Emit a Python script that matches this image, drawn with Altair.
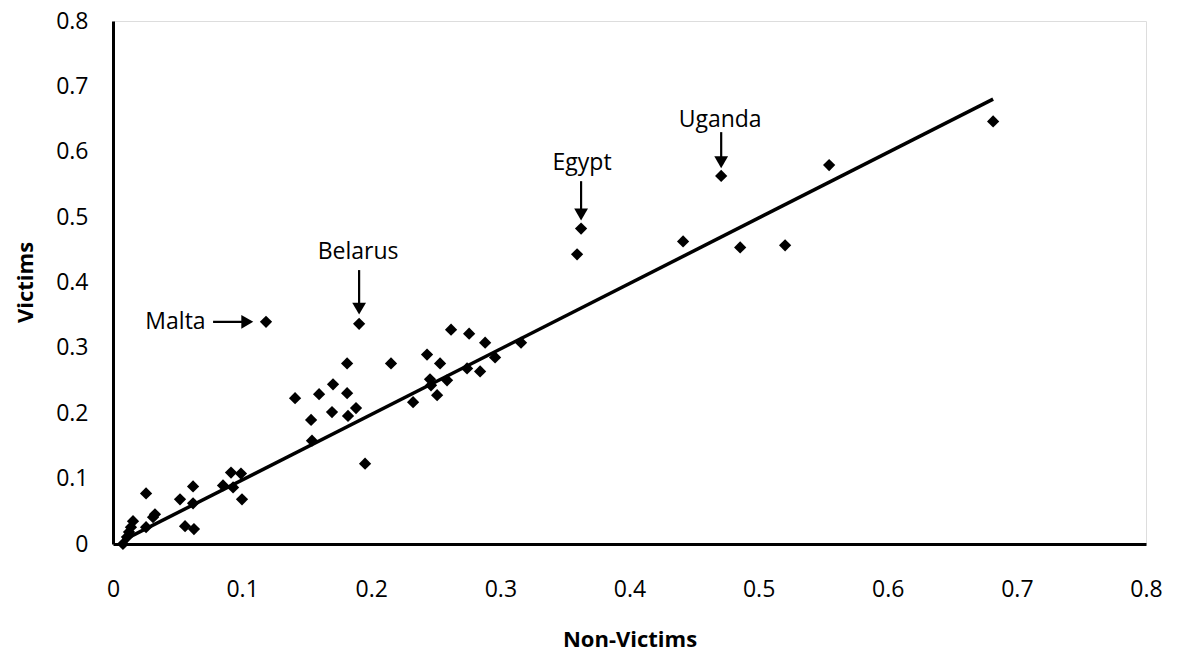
import altair as alt
import pandas as pd

# ---- data ----
non_victims = [0.0077, 0.0108, 0.0124, 0.0139, 0.0155, 0.0256, 0.0256, 0.0310, 0.0325, 0.0519,
               0.0558, 0.0620, 0.0620, 0.0627, 0.0852, 0.0914, 0.0930, 0.0991, 0.0999, 0.1185,
               0.1410, 0.1534, 0.1541, 0.1596, 0.1696, 0.1704, 0.1813, 0.1813, 0.1820, 0.1882,
               0.1906, 0.1952, 0.2153, 0.2324, 0.2432, 0.2455, 0.2463, 0.2510, 0.2533, 0.2587,
               0.2618, 0.2742, 0.2758, 0.2843, 0.2882, 0.2959, 0.3160, 0.3594, 0.3625, 0.4415,
               0.4710, 0.4857, 0.5205, 0.5546, 0.6816]
victims = [0.0000, 0.0106, 0.0182, 0.0258, 0.0349, 0.0774, 0.0258, 0.0410, 0.0455, 0.0683,
           0.0273, 0.0880, 0.0622, 0.0228, 0.0895, 0.1093, 0.0865, 0.1077, 0.0683, 0.3399,
           0.2231, 0.1897, 0.1580, 0.2291, 0.2018, 0.2443, 0.2762, 0.2307, 0.1958, 0.2079,
           0.3369, 0.1229, 0.2762, 0.2170, 0.2898, 0.2519, 0.2428, 0.2276, 0.2762, 0.2504,
           0.3278, 0.2686, 0.3217, 0.2640, 0.3080, 0.2853, 0.3080, 0.4431, 0.4825, 0.4628,
           0.5630, 0.4537, 0.4568, 0.5797, 0.6464]

# linear trend line (end points)
trend_x = [0.0077, 0.6816]
trend_y = [0.0055, 0.6805]

label_names = ["Malta", "Belarus", "Egypt", "Uganda"]
label_x = [0.0484, 0.1898, 0.3633, 0.4702]
label_y = [0.3399, 0.4460, 0.5830, 0.6490]

shaft_x1 = [0.0775, 0.1906, 0.3625, 0.4710]
shaft_x2 = [0.1030, 0.1906, 0.3625, 0.4710]
shaft_y1 = [0.3399, 0.4190, 0.5550, 0.6300]
shaft_y2 = [0.3399, 0.3650, 0.5050, 0.5900]

head_x = [0.1040, 0.1906, 0.3625, 0.4710]
head_y = [0.3399, 0.3600, 0.5040, 0.5840]
head_shape = ["triangle-right", "triangle-down", "triangle-down", "triangle-down"]

x_ticks = [0, 0.1, 0.2, 0.3, 0.4, 0.5, 0.6, 0.7, 0.8]
y_ticks = [0, 0.1, 0.2, 0.3, 0.4, 0.5, 0.6, 0.7, 0.8]

FONT = "Open Sans"

pts = pd.DataFrame({"nv": non_victims, "v": victims})
trend_df = pd.DataFrame({"nv": trend_x, "v": trend_y})
labels = pd.DataFrame({"name": label_names, "x": label_x, "y": label_y})
shafts = pd.DataFrame({"x1": shaft_x1, "x2": shaft_x2, "y1": shaft_y1, "y2": shaft_y2})
heads = pd.DataFrame({"x": head_x, "y": head_y, "shape": head_shape})

xscale = alt.Scale(domain=[0, 0.8], nice=False, zero=False)
yscale = alt.Scale(domain=[0, 0.8], nice=False, zero=False)

xaxis = alt.Axis(title="Non-Victims", values=x_ticks, format=".1~f", grid=False, ticks=False, tickSize=0,
                 labelPadding=34, labelFontSize=23, labelFont=FONT, labelColor="black",
                 domainColor="black", domainWidth=3,
                 titleFont=FONT, titleFontSize=22, titleFontWeight="bold", titleColor="black",
                 titleBaseline="middle", titleY=95, labelFlush=False, labelOverlap=False)
yaxis = alt.Axis(title="Victims", values=y_ticks, format=".1~f", grid=False, ticks=False, tickSize=0,
                 labelPadding=25, labelFontSize=23, labelFont=FONT, labelColor="black",
                 domainColor="black", domainWidth=3,
                 titleFont=FONT, titleFontSize=22, titleFontWeight="bold", titleColor="black",
                 titleBaseline="middle", titleX=-88, titleY=261, titleAlign="center",
                 labelFlush=False, labelOverlap=False)

points = alt.Chart(pts).mark_point(shape="diamond", filled=True, color="black", size=150, opacity=1).encode(
    x=alt.X("nv:Q", scale=xscale, axis=xaxis),
    y=alt.Y("v:Q", scale=yscale, axis=yaxis),
)

trend = alt.Chart(trend_df).mark_line(color="black", strokeWidth=3.5).encode(
    x=alt.X("nv:Q", scale=xscale),
    y=alt.Y("v:Q", scale=yscale),
)

text = alt.Chart(labels).mark_text(font=FONT, fontSize=23, color="black", align="center", baseline="middle").encode(
    x=alt.X("x:Q", scale=xscale),
    y=alt.Y("y:Q", scale=yscale),
    text="name:N",
)

shaft = alt.Chart(shafts).mark_rule(color="black", strokeWidth=2.2).encode(
    x=alt.X("x1:Q", scale=xscale),
    x2="x2:Q",
    y=alt.Y("y1:Q", scale=yscale),
    y2="y2:Q",
)

head = alt.Chart(heads).mark_point(filled=True, color="black", size=190, opacity=1).encode(
    x=alt.X("x:Q", scale=xscale),
    y=alt.Y("y:Q", scale=yscale),
    shape=alt.Shape("shape:N", scale=None, legend=None),
)

chart = alt.layer(trend, points, shaft, head, text).properties(
    width=1033, height=523,
    autosize=alt.AutoSizeParams(type="none"),
    padding={"left": 105, "top": 13, "right": 23, "bottom": 109},
).configure_view(stroke=None).configure(background="white")

chart.save("out.html", embed_options={"renderer": "svg", "actions": False})
